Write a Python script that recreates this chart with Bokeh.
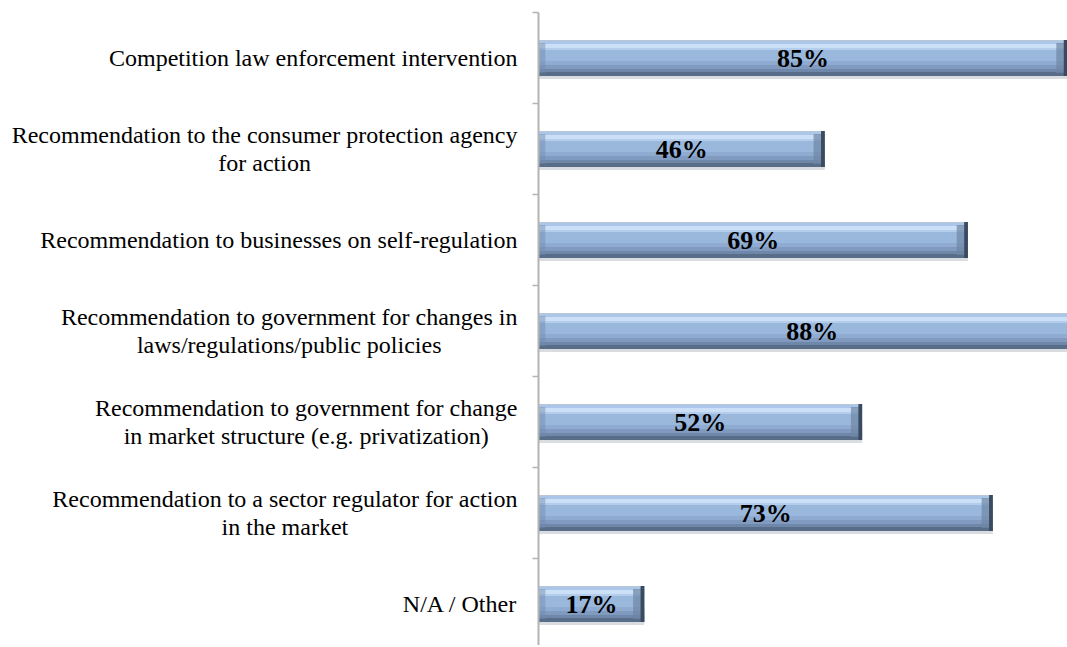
from bokeh.plotting import figure
from bokeh.layouts import row
from bokeh.models import Range1d, FixedTicker, Label, ColumnDataSource
from bokeh.core.properties import value
from bokeh.embed import file_html
from bokeh.resources import INLINE

categories = [
    "Competition law enforcement intervention",
    "Recommendation to the consumer protection agency\nfor action",
    "Recommendation to businesses on self-regulation",
    "Recommendation to government for changes in\nlaws/regulations/public policies",
    "Recommendation to government for change\nin market structure (e.g. privatization)",
    "Recommendation to a sector regulator for action\nin the market",
    "N/A / Other",
]
values = [85, 46, 69, 88, 52, 73, 17]
value_labels = ["85%", "46%", "69%", "88%", "52%", "73%", "17%"]

n = len(categories)
ypos = [n - 1 - i for i in range(n)]

H = 645
y_range = Range1d(-0.456, n - 0.5)
PX = 1.0 / 91.0  # one pixel in y units (band = 91 px)

# left panel holding the category labels
LW = 518
lp = figure(width=LW, height=H, output_backend="svg", toolbar_location=None,
            x_range=Range1d(0, LW), y_range=y_range,
            min_border_left=0, min_border_right=0, min_border_top=12, min_border_bottom=0)
lp.outline_line_color = None
lp.axis.visible = False
lp.grid.visible = False

for cat, y in zip(categories, ypos):
    multi = "\n" in cat
    lp.add_layout(Label(x=517, y=y, text=cat,
                        text_align="center" if multi else "right", text_baseline="middle",
                        anchor="center_right",
                        text_font="Liberation Serif", text_font_size="24px", text_color="black",
                        text_line_height=1.05))

# main bar panel
p = figure(width=1067 - LW, height=H, output_backend="svg", toolbar_location=None,
           x_range=Range1d(0, 85), y_range=y_range,
           min_border_left=20, min_border_right=0, min_border_top=12, min_border_bottom=0)
p.outline_line_color = None
p.xaxis.visible = False
p.xgrid.visible = False
p.ygrid.visible = False

ax = p.yaxis[0]
ax.ticker = FixedTicker(ticks=[y + 0.5 for y in ypos] + [-0.5])
ax.major_label_text_color = None
ax.major_label_text_font_size = "1px"
ax.major_label_standoff = 0
ax.axis_line_color = "#B4B4B4"
ax.axis_line_width = 2
ax.major_tick_line_color = "#B4B4B4"
ax.major_tick_line_width = 1.5
ax.major_tick_out = 6
ax.major_tick_in = 0
ax.minor_tick_line_color = None

src = ColumnDataSource(dict(
    y=ypos, v=values, half=[v / 2 for v in values], lab=value_labels,
    cap1=[v - 1.8 for v in values], cap2=[v - 0.6 for v in values],
))

# bevelled bar: stacked horizontal shading strips (pixel offsets from bar centre, top = negative)
strips = [
    (18, 21, "#D9DCE0"),   # soft shadow under the bar
    (-18, 18, "#9AB7DC"),  # body
    (-18, -17, "#B9C6D6"),
    (-17, -14, "#ABC6E8"),
    (-14, -10, "#CBDFF6"),
    (-10, -8, "#B5CDEC"),
    (3, 7, "#8FABD1"),
    (7, 11, "#819BC0"),
    (11, 14, "#6F88A9"),
    (14, 18, "#586D88"),
]
for top, bot, col in strips:
    yc = [y - (top + bot) / 2 * PX for y in ypos]
    src.data["s%d_%d" % (top, bot)] = yc
    p.hbar(y="s%d_%d" % (top, bot), left=0, right="v", height=(bot - top) * PX, source=src,
           fill_color=col, line_color=None)

# end bevels
p.hbar(y="y", left=0, right=1.1, height=30 * PX, source=src, fill_color="#6F89AC", fill_alpha=0.45, line_color=None)
p.hbar(y="y", left="cap1", right="v", height=30 * PX, source=src, fill_color="#6E86A5", line_color=None, fill_alpha=0.7)
p.hbar(y="y", left="cap2", right="v", height=36 * PX, source=src, fill_color="#3B4B5F", line_color=None)

p.text(x="half", y="y", text="lab", source=src, text_align="center", text_baseline="middle",
       text_font=value("Liberation Serif"), text_font_style="bold", text_font_size="26px",
       text_color="black")

layout = row(lp, p)
open("out.html", "w").write(file_html(layout, INLINE))
